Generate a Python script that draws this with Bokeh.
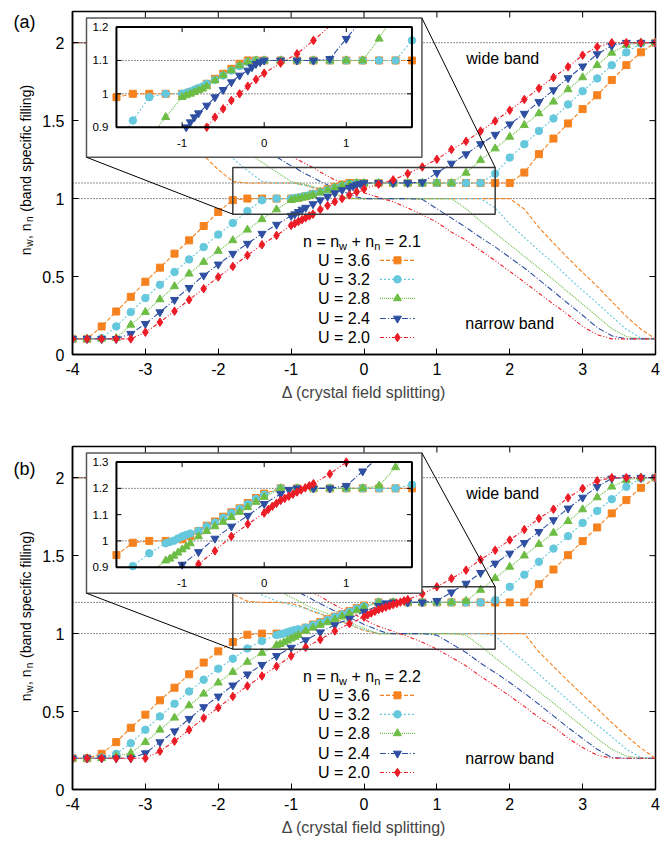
import math
from bokeh.plotting import figure
from bokeh.models import Range1d, LinearAxis, FixedTicker, Label, Span
from bokeh.layouts import column, row
from bokeh.embed import file_html
from bokeh.resources import INLINE

FONT = "Liberation Sans"

# ---------------------------------------------------------------- data
U_LABELS = ["U = 3.6", "U = 3.2", "U = 2.8", "U = 2.4", "U = 2.0"]
N_TOTAL_A = 2.1
N_TOTAL_B = 2.2

# panel (a): wide-band filling n_w versus Delta, n = 2.1
XA_U36 = [-4.0, -3.8, -3.6, -3.4, -3.2, -3.0, -2.8, -2.6, -2.4, -2.2, -2.0, -1.8, -1.6, -1.4, -1.2, -1.0,
          -0.9, -0.8, -0.7, -0.6, -0.5, -0.4, -0.3, -0.2, -0.1, 0.0,
          0.2, 0.4, 0.6, 0.8, 1.0, 1.2, 1.4, 1.6, 1.8, 2.0,
          2.2, 2.4, 2.6, 2.8, 3.0, 3.2, 3.4, 3.6, 3.8, 4.0]
YA_U36 = [0.10, 0.10, 0.18, 0.276, 0.37, 0.467, 0.557, 0.647, 0.732, 0.824, 0.914, 0.99, 1.0, 1.0, 1.0, 1.0,
          1.005, 1.015, 1.03, 1.045, 1.06, 1.075, 1.09, 1.10, 1.10, 1.10,
          1.10, 1.10, 1.10, 1.10, 1.10, 1.10, 1.10, 1.10, 1.10, 1.10,
          1.167, 1.285, 1.385, 1.482, 1.574, 1.663, 1.76, 1.856, 1.938, 2.0]

XA_U32 = [-4.0, -3.8, -3.6, -3.4, -3.2, -3.0, -2.8, -2.6, -2.4, -2.2, -2.0, -1.8, -1.6, -1.4, -1.2, -1.0,
          -0.95, -0.9, -0.85, -0.8, -0.75, -0.7, -0.6, -0.5, -0.4, -0.3, -0.2, -0.1, 0.0,
          0.2, 0.4, 0.6, 0.8, 1.0, 1.2, 1.4, 1.6,
          1.8, 2.0, 2.2, 2.4, 2.6, 2.8, 3.0, 3.2, 3.4, 3.6, 3.8, 4.0]
YA_U32 = [0.10, 0.10, 0.105, 0.18, 0.272, 0.362, 0.447, 0.529, 0.61, 0.689, 0.769, 0.843, 0.92, 0.99, 1.0, 1.0,
          1.003, 1.007, 1.012, 1.017, 1.022, 1.03, 1.042, 1.055, 1.07, 1.083, 1.095, 1.10, 1.10,
          1.10, 1.10, 1.10, 1.10, 1.10, 1.10, 1.10, 1.10,
          1.16, 1.263, 1.349, 1.434, 1.514, 1.604, 1.689, 1.771, 1.856, 1.938, 1.995, 2.0]

XA_U28 = [-4.0, -3.8, -3.6, -3.4, -3.2, -3.0, -2.8, -2.6, -2.4, -2.2, -2.0, -1.8, -1.6, -1.4, -1.2, -1.0,
          -0.95, -0.9, -0.85, -0.8, -0.75, -0.7, -0.6, -0.5, -0.4, -0.3, -0.2, -0.1, 0.0,
          0.2, 0.4, 0.6, 0.8, 1.0, 1.2,
          1.4, 1.6, 1.8, 2.0, 2.2, 2.4, 2.6, 2.8, 3.0, 3.2, 3.4, 3.6, 3.8, 4.0]
YA_U28 = [0.10, 0.10, 0.10, 0.105, 0.19, 0.272, 0.353, 0.437, 0.518, 0.593, 0.664, 0.732, 0.80, 0.867, 0.93, 0.99,
          0.995, 1.0, 1.005, 1.01, 1.015, 1.022, 1.04, 1.055, 1.07, 1.085, 1.095, 1.10, 1.10,
          1.10, 1.10, 1.10, 1.10, 1.10, 1.10,
          1.165, 1.246, 1.321, 1.396, 1.471, 1.546, 1.621, 1.70, 1.777, 1.856, 1.935, 1.985, 2.0, 2.0]

XA_U24 = [-4.0, -3.8, -3.6, -3.4, -3.2, -3.0, -2.8, -2.6, -2.4, -2.2, -2.0, -1.8, -1.6, -1.4, -1.2, -1.0,
          -0.95, -0.9, -0.85, -0.8, -0.7, -0.6, -0.5, -0.4, -0.3, -0.2, -0.15, -0.1, -0.05, 0.0,
          0.2, 0.4, 0.6, 0.8,
          1.0, 1.2, 1.4, 1.6, 1.8, 2.0, 2.2, 2.4, 2.6, 2.8, 3.0, 3.2, 3.4, 3.6, 3.8, 4.0]
YA_U24 = [0.10, 0.10, 0.10, 0.10, 0.133, 0.197, 0.272, 0.351, 0.428, 0.507, 0.578, 0.647, 0.711, 0.775, 0.833, 0.89,
          0.90, 0.915, 0.93, 0.942, 0.965, 0.99, 1.012, 1.035, 1.055, 1.07, 1.08, 1.09, 1.095, 1.10,
          1.10, 1.10, 1.10, 1.105,
          1.165, 1.225, 1.285, 1.35, 1.41, 1.477, 1.545, 1.62, 1.696, 1.773, 1.848, 1.927, 1.98, 2.0, 2.0, 2.0]

XA_U20 = [-4.0, -3.8, -3.6, -3.4, -3.2, -3.0, -2.8, -2.6, -2.4, -2.2, -2.0, -1.8, -1.6, -1.4, -1.2, -1.0,
          -0.95, -0.9, -0.85, -0.8, -0.75, -0.7, -0.6, -0.5, -0.4, -0.3, -0.2, -0.1, 0.0,
          0.2, 0.4, 0.6, 0.8, 1.0, 1.2, 1.4, 1.6, 1.8, 2.0, 2.2, 2.4, 2.6, 2.8, 3.0, 3.2, 3.4, 3.6, 3.8, 4.0]
YA_U20 = [0.10, 0.10, 0.10, 0.10, 0.10, 0.143, 0.207, 0.278, 0.351, 0.422, 0.497, 0.565, 0.636, 0.704, 0.764, 0.828,
          0.84, 0.853, 0.865, 0.877, 0.889, 0.90, 0.93, 0.955, 0.98, 1.0, 1.023, 1.043, 1.062,
          1.092, 1.12, 1.16, 1.203, 1.252, 1.315, 1.367, 1.433, 1.498, 1.567, 1.636, 1.707, 1.777, 1.845, 1.92,
          1.973, 2.0, 2.0, 2.0, 2.0]

# panel (b): wide-band filling n_w versus Delta, n = 2.2
XB_U36 = [-4.0, -3.8, -3.6, -3.4, -3.2, -3.0, -2.8, -2.6, -2.4, -2.2, -2.0, -1.8, -1.6, -1.4, -1.2,
          -1.0, -0.9, -0.8, -0.7, -0.6, -0.5, -0.4, -0.3, -0.2, -0.1, 0.0,
          0.2, 0.4, 0.6, 0.8, 1.0, 1.2, 1.4, 1.6, 1.8, 2.0, 2.2,
          2.4, 2.6, 2.8, 3.0, 3.2, 3.4, 3.6, 3.8, 4.0]
YB_U36 = [0.20, 0.20, 0.229, 0.304, 0.396, 0.48, 0.572, 0.653, 0.739, 0.814, 0.886, 0.946, 0.993, 1.0, 1.0,
          1.006, 1.019, 1.038, 1.058, 1.074, 1.092, 1.109, 1.124, 1.144, 1.163, 1.18,
          1.20, 1.20, 1.20, 1.20, 1.20, 1.20, 1.20, 1.20, 1.20, 1.20, 1.20,
          1.317, 1.411, 1.503, 1.593, 1.681, 1.771, 1.856, 1.935, 2.0]

XB_U32 = [-4.0, -3.8, -3.6, -3.4, -3.2, -3.0, -2.8, -2.6, -2.4, -2.2, -2.0, -1.8, -1.6, -1.4, -1.2,
          -1.15, -1.1, -1.05, -1.0, -0.95, -0.9, -0.8, -0.7, -0.6, -0.5, -0.4, -0.3, -0.2, -0.1, 0.0,
          0.2, 0.4, 0.6, 0.8, 1.0, 1.2, 1.4, 1.6,
          1.8, 2.0, 2.2, 2.4, 2.6, 2.8, 3.0, 3.2, 3.4, 3.6, 3.8, 4.0]
YB_U32 = [0.20, 0.20, 0.205, 0.229, 0.297, 0.383, 0.469, 0.55, 0.629, 0.704, 0.775, 0.839, 0.904, 0.953, 0.991,
          0.996, 1.001, 1.009, 1.017, 1.023, 1.028, 1.038, 1.055, 1.07, 1.088, 1.106, 1.122, 1.14, 1.16, 1.176,
          1.20, 1.20, 1.20, 1.20, 1.20, 1.20, 1.20, 1.20,
          1.214, 1.30, 1.378, 1.46, 1.545, 1.625, 1.71, 1.787, 1.862, 1.942, 1.995, 2.0]

XB_U28 = [-4.0, -3.8, -3.6, -3.4, -3.2, -3.0, -2.8, -2.6, -2.4, -2.2, -2.0, -1.8, -1.6, -1.4, -1.2,
          -1.15, -1.1, -1.05, -1.0, -0.95, -0.9, -0.8, -0.7, -0.6, -0.5, -0.4, -0.3, -0.2, -0.1, 0.0,
          0.2, 0.4, 0.6, 0.8, 1.0, 1.2,
          1.4, 1.6, 1.8, 2.0, 2.2, 2.4, 2.6, 2.8, 3.0, 3.2, 3.4, 3.6, 3.8, 4.0]
YB_U28 = [0.20, 0.20, 0.20, 0.215, 0.233, 0.304, 0.383, 0.46, 0.539, 0.614, 0.685, 0.753, 0.818, 0.876, 0.925,
          0.932, 0.943, 0.955, 0.967, 0.978, 0.99, 1.017, 1.037, 1.055, 1.072, 1.09, 1.11, 1.128, 1.148, 1.167,
          1.20, 1.20, 1.20, 1.20, 1.20, 1.20,
          1.21, 1.28, 1.355, 1.428, 1.50, 1.573, 1.646, 1.721, 1.796, 1.873, 1.942, 1.985, 2.0, 2.0]

XB_U24 = [-4.0, -3.8, -3.6, -3.4, -3.2, -3.0, -2.8, -2.6, -2.4, -2.2, -2.0, -1.8, -1.6, -1.4, -1.2, -1.0,
          -0.8, -0.6, -0.4, -0.2, 0.0, 0.2, 0.3, 0.4, 0.6, 0.8,
          1.0, 1.2, 1.4, 1.6, 1.8, 2.0, 2.2, 2.4, 2.6, 2.8, 3.0, 3.2, 3.4, 3.6, 3.8, 4.0]
YB_U24 = [0.20, 0.20, 0.20, 0.20, 0.20, 0.233, 0.304, 0.374, 0.454, 0.529, 0.597, 0.668, 0.739, 0.80, 0.857, 0.91,
          0.958, 1.009, 1.055, 1.096, 1.141, 1.179, 1.195, 1.20, 1.20, 1.20,
          1.21, 1.265, 1.321, 1.39, 1.45, 1.514, 1.582, 1.653, 1.728, 1.803, 1.873, 1.942, 1.995, 2.0, 2.0, 2.0]

XB_U20 = [-4.0, -3.8, -3.6, -3.4, -3.2, -3.0, -2.8, -2.6, -2.4, -2.2, -2.0, -1.8, -1.6, -1.4, -1.2, -1.0, -0.8, -0.6,
          -0.4, -0.2, 0.0,
          0.05, 0.1, 0.15, 0.2, 0.25, 0.3, 0.35, 0.4, 0.45, 0.5, 0.55, 0.6,
          0.8, 1.0, 1.2, 1.4, 1.6, 1.8, 2.0, 2.2, 2.4, 2.6, 2.8, 3.0, 3.2, 3.4, 3.6, 3.8, 4.0]
YB_U20 = [0.20, 0.20, 0.20, 0.20, 0.20, 0.20, 0.246, 0.31, 0.383, 0.458, 0.525, 0.597, 0.664, 0.728, 0.79, 0.856, 0.912, 0.962,
          1.017, 1.064, 1.106,
          1.12, 1.132, 1.143, 1.154, 1.162, 1.17, 1.178, 1.186, 1.194, 1.202, 1.21, 1.218,
          1.255, 1.30, 1.353, 1.407, 1.474, 1.535, 1.60, 1.667, 1.738, 1.798, 1.871, 1.931, 1.98, 2.0, 2.0, 2.0, 2.0]

X_TICKS = [-4, -3, -2, -1, 0, 1, 2, 3, 4]
X_TICK_LABELS = ["-4", "-3", "-2", "-1", "0", "1", "2", "3", "4"]
Y_TICKS = [0, 0.5, 1, 1.5, 2]
Y_TICK_LABELS = ["0", "0.5", "1", "1.5", "2"]
REF_LEVELS_A = [1.0, 1.1, 2.0]
REF_LEVELS_B = [1.0, 1.2, 2.0]
INSET_X = [-1.8, 1.8]
INSET_Y_A = [0.9, 1.2]
INSET_Y_B = [0.9, 1.3]
INSET_XTICKS = [-1, 0, 1]
INSET_XTICK_LABELS = ["-1", "0", "1"]
INSET_YTICKS_A = [0.9, 1.0, 1.1, 1.2]
INSET_YTICK_LABELS_A = ["0.9", "1", "1.1", "1.2"]
INSET_YTICKS_B = [0.9, 1.0, 1.1, 1.2, 1.3]
INSET_YTICK_LABELS_B = ["0.9", "1", "1.1", "1.2", "1.3"]

# ---------------------------------------------------------------- style / layout
COLORS = ["#F5821F", "#66C8DD", "#6DBD45", "#2E4FA1", "#EC1C26"]
MARKERS = ["square", "circle", "triangle", "inverted_triangle", "diamond"]
SIZES = [7, 7.5, 8, 8, 8.5]
DASHES = ["4 2", "2 2", "1 1", "6 2 1 2", "4 2 1 2 1 2"]

SIDE_W = 36
FIG_W = 624
BORDER_L, BORDER_R = 36, 5
FRAME_H = 343
PXX = (FIG_W - BORDER_L - BORDER_R) / 8.0
PXY = FRAME_H / 2.2
ROT_ADVANCE = 1.33   # rotated text advances further than the Arial metrics predict

W_ARIAL = {' ': 278, 'n': 556, 'w': 722, '=': 584, '+': 584, ',': 278, '.': 278, '(': 333, ')': 333,
           'a': 556, 'b': 556, 'c': 500, 'd': 556, 'e': 556, 'f': 278, 'g': 556, 'i': 222, 'l': 222,
           'p': 556, 's': 500, 't': 278, 'U': 722}


def text_w(s, size):
    return sum(W_ARIAL.get(ch, 556) for ch in s) * size / 1000.0


def add_text(p, x, y, text, size, align="left", baseline="middle", angle=0.0, **kw):
    p.add_layout(Label(x=x, y=y, text=text, text_font=FONT, text_font_size=f"{size}px",
                       text_align=align, text_baseline=baseline, angle=angle, text_color="black", **kw))


def clip_segment(x0, y0, x1, y1, xmin, xmax, ymin, ymax):
    dx, dy = x1 - x0, y1 - y0
    u0, u1 = 0.0, 1.0
    for pi, qi in ((-dx, x0 - xmin), (dx, xmax - x0), (-dy, y0 - ymin), (dy, ymax - y0)):
        if pi == 0:
            if qi < 0:
                return None
        else:
            t = qi / pi
            if pi < 0:
                u0 = max(u0, t)
            else:
                u1 = min(u1, t)
    if u0 > u1:
        return None
    return x0 + u0 * dx, y0 + u0 * dy, x0 + u1 * dx, y0 + u1 * dy


def clip_polyline(xs, ys, box):
    pieces, cx, cy = [], [], []
    for i in range(len(xs) - 1):
        s = clip_segment(xs[i], ys[i], xs[i + 1], ys[i + 1], *box)
        if s is None:
            if cx:
                pieces.append((cx, cy))
            cx, cy = [], []
            continue
        ax, ay, bx, by = s
        if cx and abs(cx[-1] - ax) < 1e-9 and abs(cy[-1] - ay) < 1e-9:
            cx.append(bx)
            cy.append(by)
        else:
            if cx:
                pieces.append((cx, cy))
            cx, cy = [ax, bx], [ay, by]
    if cx:
        pieces.append((cx, cy))
    return pieces


def make_axis(ticks, labels):
    ax = LinearAxis(ticker=FixedTicker(ticks=ticks), major_tick_in=6, major_tick_out=0,
                    minor_tick_line_color=None, axis_line_color="black", axis_line_width=1.5,
                    major_tick_line_color="black", major_tick_line_width=1)
    ax.major_label_overrides = {t: l for t, l in zip(ticks, labels)}
    ax.major_label_text_font = FONT
    ax.major_label_text_font_size = "16px"
    ax.major_label_text_color = "black"
    ax.major_label_standoff = 8
    return ax


def run_text(p, pieces, x, y, horizontal=True):
    """Place text pieces one after another; pieces = (text, size, is_subscript)."""
    pos = 0.0
    for s, sz, sub in pieces:
        lead = len(s) - len(s.lstrip(" "))
        body = s.lstrip(" ")
        if horizontal:
            pos += text_w(" " * lead, sz)
            add_text(p, x + pos / PXX, y - sub * 4.5 / PXY, body, sz, baseline="alphabetic")
            pos += text_w(body, sz)
        else:
            pos += text_w(" " * lead, sz) * ROT_ADVANCE
            add_text(p, x + sub * 4.0, y + pos, body, sz, baseline="alphabetic", angle=math.pi / 2)
            pos += text_w(body, sz) * ROT_ADVANCE
    return pos


def build_side(tag, height, top):
    s = figure(width=SIDE_W, height=height, x_range=Range1d(0, SIDE_W), y_range=Range1d(0, height),
               x_axis_type=None, y_axis_type=None, output_backend="svg", toolbar_location=None,
               min_border_left=0, min_border_right=0, min_border_top=0, min_border_bottom=0)
    s.outline_line_color = None
    s.background_fill_color = "white"
    s.border_fill_color = "white"
    add_text(s, 24, height - top - 2, f"({tag})", 18, align="center")
    ypieces = [("n", 14, 0), ("w", 10, 1), (", n", 14, 0), ("n", 10, 1), (" (band specific filling)", 14, 0)]
    total = sum(text_w(t, sz) for t, sz, _ in ypieces) * ROT_ADVANCE
    yc = height - top - FRAME_H / 2 - 5
    run_text(s, ypieces, 25, yc - total / 2, horizontal=False)
    return s


def build_panel(tag, xs_list, ys_list, n_total, ref_levels, inset_y, inset_yticks, inset_ylabels,
                inset_frame, outer_box, height, top, bottom):
    p = figure(width=FIG_W, height=height, x_range=Range1d(-4, 4), y_range=Range1d(0, 2.2),
               x_axis_type=None, y_axis_type=None, output_backend="svg", toolbar_location=None,
               min_border_left=BORDER_L, min_border_right=BORDER_R, min_border_top=top,
               min_border_bottom=bottom)
    p.outline_line_color = "black"
    p.outline_line_width = 1.5
    p.background_fill_color = "white"
    p.border_fill_color = "white"

    xb = make_axis(X_TICKS, X_TICK_LABELS)
    xb.axis_label = "\u0394 (crystal field splitting)"
    xb.axis_label_text_font = FONT
    xb.axis_label_text_font_size = "16px"
    xb.axis_label_text_font_style = "normal"
    xb.axis_label_standoff = 6
    p.add_layout(xb, "below")
    p.add_layout(make_axis(Y_TICKS, Y_TICK_LABELS), "left")

    for lv in ref_levels:
        p.add_layout(Span(location=lv, dimension="width", line_color="#222222", line_dash="1 2",
                          line_width=1, level="underlay"))

    # narrow band (n_n = n - n_w): lines only
    for i in range(5):
        nn = [round(n_total - v, 4) for v in ys_list[i]]
        p.line(xs_list[i], nn, line_color=COLORS[i], line_dash=DASHES[i], line_width=1.1)
    # wide band: lines + points
    for i in range(5):
        p.line(xs_list[i], ys_list[i], line_color=COLORS[i], line_dash=DASHES[i], line_width=1.1)
        p.scatter(xs_list[i], ys_list[i], marker=MARKERS[i], size=SIZES[i],
                  fill_color=COLORS[i], line_color=COLORS[i])

    # legend
    leg_y = [0.604, 0.482, 0.36, 0.231, 0.109]
    for i in range(5):
        add_text(p, 0.082, leg_y[i], U_LABELS[i], 16, align="right")
        p.line([0.219, 0.699], [leg_y[i], leg_y[i]], line_color=COLORS[i], line_dash=DASHES[i],
               line_width=1.1)
        p.scatter([0.459], [leg_y[i]], marker=MARKERS[i], size=SIZES[i], fill_color=COLORS[i],
                  line_color=COLORS[i])
    pieces = [("n = n", 16, 0), ("w", 11, 1), (" + n", 16, 0), ("n", 11, 1), (f" = {n_total}", 16, 0)]
    run_text(p, pieces, -0.836, 0.726)

    add_text(p, 1.904, 1.901, "wide band", 16, align="center")
    add_text(p, 2.0, 0.199, "narrow band", 16, align="center")

    # zoom box in the main plot
    p.quad(left=INSET_X[0], right=INSET_X[1], bottom=inset_y[0], top=inset_y[1], fill_color=None,
           line_color="#3a3a3a", line_width=1.5)
    # inset outer box
    ol, orr, ob, ot = outer_box
    p.quad(left=ol, right=orr, bottom=ob, top=ot, fill_color="white", line_color="#555555", line_width=1.5)
    p.segment(x0=[ol, orr], y0=[ob, ot], x1=[INSET_X[0], INSET_X[1]], y1=[inset_y[0], inset_y[1]],
              line_color="black", line_width=1)

    # mirror ticks (top and right)
    tx = [t for t in X_TICKS[1:-1]]
    p.segment(x0=tx, y0=[2.2] * len(tx), x1=tx, y1=[2.2 - 6 / PXY] * len(tx), line_color="black", line_width=1)
    ty = [t for t in Y_TICKS[1:]]
    p.segment(x0=[4] * len(ty), y0=ty, x1=[4 - 6 / PXX] * len(ty), y1=ty, line_color="black", line_width=1)

    # inset coordinate system via extra ranges
    X0, X1, Y0, Y1 = inset_frame
    ix0, ix1 = INSET_X
    iy0, iy1 = inset_y
    bxs = (X1 - X0) / (ix1 - ix0)
    bys = (Y1 - Y0) / (iy1 - iy0)
    p.extra_x_ranges = {"ix": Range1d(ix0 + (-4 - X0) / bxs, ix0 + (4 - X0) / bxs)}
    p.extra_y_ranges = {"iy": Range1d(iy0 + (0 - Y0) / bys, iy0 + (2.2 - Y0) / bys)}
    pxi = PXX * bxs
    pyi = PXY * bys
    kw = dict(x_range_name="ix", y_range_name="iy")

    refs_in = [lv for lv in ref_levels if iy0 < lv < iy1]
    p.multi_line(xs=[[ix0, ix1] for _ in refs_in], ys=[[lv, lv] for lv in refs_in], line_color="#222222",
                 line_dash="1 2", line_width=1, **kw)
    box = (ix0, ix1, iy0, iy1)
    eps = 1e-9
    for i in range(5):
        pcs = clip_polyline(xs_list[i], ys_list[i], box)
        p.multi_line(xs=[c[0] for c in pcs], ys=[c[1] for c in pcs], line_color=COLORS[i],
                     line_dash=DASHES[i], line_width=1.1, **kw)
        keep = [(x, y) for x, y in zip(xs_list[i], ys_list[i])
                if ix0 - eps <= x <= ix1 + eps and iy0 - eps <= y <= iy1 + eps]
        p.scatter([k[0] for k in keep], [k[1] for k in keep], marker=MARKERS[i], size=SIZES[i],
                  fill_color=COLORS[i], line_color=COLORS[i], **kw)
    p.quad(left=ix0, right=ix1, bottom=iy0, top=iy1, fill_color=None, line_color="black", line_width=2, **kw)

    tl_y = 5 / pyi
    tl_x = 5 / pxi
    sx0, sy0, sx1, sy1 = [], [], [], []
    for t in INSET_XTICKS:
        sx0 += [t, t]; sx1 += [t, t]; sy0 += [iy0, iy1]; sy1 += [iy0 + tl_y, iy1 - tl_y]
    for t in inset_yticks[1:-1]:
        sx0 += [ix0, ix1]; sx1 += [ix0 + tl_x, ix1 - tl_x]; sy0 += [t, t]; sy1 += [t, t]
    p.segment(x0=sx0, y0=sy0, x1=sx1, y1=sy1, line_color="black", line_width=1, **kw)

    for t, lab in zip(INSET_XTICKS, INSET_XTICK_LABELS):
        add_text(p, t, iy0 - 16 / pyi, lab, 11.5, align="center", **kw)
    for t, lab in zip(inset_yticks, inset_ylabels):
        add_text(p, ix0 - 8 / pxi, t, lab, 11.5, align="right", **kw)

    side = build_side(tag, height, top)
    return row(side, p)


HA, TOPA, BOTA = 420, 11, 66
HB, TOPB, BOTB = 422, 26, 53
pa = build_panel("a", [XA_U36, XA_U32, XA_U28, XA_U24, XA_U20], [YA_U36, YA_U32, YA_U28, YA_U24, YA_U20],
                 N_TOTAL_A, REF_LEVELS_A, INSET_Y_A, INSET_YTICKS_A, INSET_YTICK_LABELS_A,
                 (-3.397, 0.658, 1.458, 2.100), (-3.808, 0.795, 1.265, 2.158), height=HA, top=TOPA, bottom=BOTA)
pb = build_panel("b", [XB_U36, XB_U32, XB_U28, XB_U24, XB_U20], [YB_U36, YB_U32, YB_U28, YB_U24, YB_U20],
                 N_TOTAL_B, REF_LEVELS_B, INSET_Y_B, INSET_YTICKS_B, INSET_YTICK_LABELS_B,
                 (-3.397, 0.658, 1.426, 2.100), (-3.808, 0.795, 1.259, 2.158), height=HB, top=TOPB, bottom=BOTB)

layout = column(pa, pb)
open("out.html", "w").write(file_html(layout, INLINE))
